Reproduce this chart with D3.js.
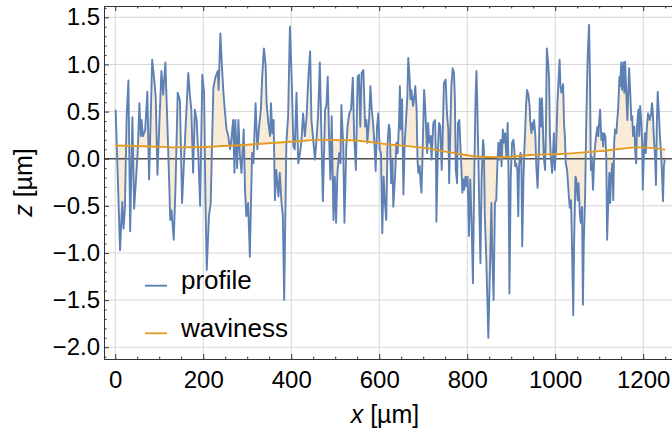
<!DOCTYPE html>
<meta charset="utf-8">
<style>
  body {
    margin: 0;
    background: #fff;
  }
  text {
    font-family: "Liberation Sans", Arial, sans-serif;
    fill: #000;
  }
</style>
<body></body>
<script src="https://d3js.org/d3.v7.min.js"></script>
<script>
  const width = 672
  const height = 432

  // profile, x in µm and z in µm
  const profileX = [
    1, 11, 16, 19, 22, 26, 30, 34, 39, 43, 47, 51, 55, 58, 60, 63, 68, 73, 77, 84,
    88, 92, 96, 100, 105, 109, 114, 119, 123, 125, 128, 133, 137, 142, 147, 152, 160, 166, 170, 173,
    177, 181, 185, 189, 193, 198, 202, 205, 208, 213, 217, 223, 228, 233, 235, 239, 243, 246, 249, 253,
    257, 261, 264, 268, 271, 273, 277, 280, 283, 287, 292, 295, 298, 302, 306, 311, 314, 319, 323, 327,
    331, 334, 338, 342, 344, 348, 352, 354, 357, 360, 363, 366, 371, 374, 378, 381, 384, 389, 393, 397,
    401, 405, 408, 412, 416, 420, 423, 427, 431, 435, 439, 443, 446, 450, 454, 458, 461, 465, 469, 472,
    477, 480, 483, 486, 489, 492, 495, 496, 499, 502, 505, 509, 512, 514, 518, 521, 525, 528, 532, 536,
    540, 543, 547, 551, 554, 557, 560, 564, 568, 571, 573, 577, 580, 583, 586, 589, 592, 595, 598, 601,
    604, 607, 610, 613, 616, 619, 622, 624, 627, 630, 632, 636, 639, 642, 645, 647, 649, 652, 654, 655,
    658, 661, 664, 666, 669, 671, 673, 677, 680, 682, 685, 687, 689, 692, 694, 696, 698, 702, 704, 706,
    709, 711, 714, 717, 719, 721, 723, 727, 729, 730, 733, 736, 739, 742, 744, 747, 751, 754, 757, 759,
    762, 764, 767, 770, 772, 774, 777, 779, 782, 786, 789, 791, 793, 796, 798, 801, 804, 807, 810, 813,
    816, 819, 821, 823, 827, 830, 833, 836, 838, 840, 843, 846, 848, 852, 855, 857, 860, 863, 866, 869,
    871, 873, 876, 878, 881, 883, 886, 889, 892, 894, 896, 899, 902, 905, 907, 909, 911, 914, 916, 918,
    921, 923, 925, 928, 930, 934, 936, 939, 942, 943, 946, 948, 950, 952, 955, 957, 960, 963, 965, 968,
    970, 972, 974, 977, 979, 981, 983, 986, 988, 990, 993, 995, 997, 999, 1002, 1005, 1008, 1010, 1012, 1014,
    1018, 1020, 1022, 1024, 1027, 1030, 1033, 1036, 1038, 1041, 1043, 1046, 1048, 1051, 1053, 1056, 1058, 1061, 1063, 1065,
    1068, 1070, 1072, 1074, 1077, 1079, 1081, 1083, 1086, 1088, 1090, 1093, 1096, 1098, 1100, 1102, 1105, 1107, 1109, 1111,
    1114, 1116, 1118, 1121, 1123, 1125, 1127, 1130, 1132, 1134, 1136, 1139, 1141, 1143, 1146, 1148, 1150, 1152, 1155, 1157,
    1159, 1161, 1164, 1166, 1168, 1171, 1173, 1175, 1177, 1180, 1182, 1184, 1186, 1189, 1191, 1193, 1196, 1198, 1199, 1202,
    1204, 1206, 1208, 1211, 1213, 1215, 1218, 1220, 1222, 1224, 1227, 1229, 1231, 1233, 1236, 1238, 1240, 1243, 1245, 1247,
    1249
  ]
  const profileZ = [
    0.52, -0.97, -0.46, -0.74, -0.53, 0.45, 0.83, -0.77, 0.44, -0.53, -0.24, 0.06, 0.59, 0.24, 0.41, 0.24, 0.30, 0.71, -0.22, 1.05,
    0.87, 0.66, -0.17, 0.34, 0.93, 0.68, 1.02, 0.30, -0.30, -0.65, -0.55, -0.86, -0.30, 0.70, 0.62, -0.47, 0.34, 0.91, 0.66, 0.52,
    -0.15, 0.52, 0.41, 0.02, -0.50, 0.89, 0.70, -0.40, -1.18, -0.61, -0.47, 0.75, 0.87, 0.93, 0.73, 1.33, 0.94, 0.70, 0.52, 0.31,
    0.24, 0.10, 0.20, 0.41, -0.15, 0.41, -0.10, 0.41, 0.06, -0.15, 0.31, -0.33, -0.61, -0.47, -1.04, 0.06, -0.05, 0.59, 0.10, 0.34,
    0.52, 0.87, 1.17, 0.98, 0.59, 0.38, 0.24, 0.59, 0.27, 0.41, -0.44, -0.12, -0.40, -0.15, -0.47, -0.61, -1.50, 0.17, 0.45, 1.40,
    0.87, 0.13, 0.10, 0.70, -0.05, 0.06, 0.17, 0.48, 0.24, 0.45, 0.87, 1.14, 0.41, 0.20, -0.01, 0.24, 0.45, 1.02, 0.17, -0.45,
    0.52, 0.57, 0.87, 0.24, -0.22, 0.45, -0.37, -0.65, -0.19, -0.68, -0.15, 0.06, -0.05, 0.57, 0.17, -0.68, 0.10, 0.34, 0.48, 0.52,
    0.86, 0.24, -0.12, 0.87, 0.89, 0.34, 0.91, 0.94, 0.34, 0.41, 0.17, 0.41, 0.77, 0.52, 0.38, 0.17, -0.13, 0.34, 0.48, 0.10,
    0.06, -0.79, -0.19, -0.47, -0.65, 0.17, 0.36, 0.31, -0.26, -0.01, -0.51, -0.19, 0.17, 0.06, 0.38, 0.77, 0.31, 0.63, -0.05, -0.38,
    0.17, 0.41, 0.66, 1.07, 0.87, 0.63, 0.73, 0.56, 0.66, 0.77, 0.52, -0.01, -0.15, -0.08, -0.26, -0.36, -0.05, 0.73, 0.59, 0.38,
    0.06, 0.38, 0.17, 0.24, -0.01, 0.20, 0.38, 0.41, -0.01, -0.67, 0.02, 0.38, 0.34, -0.12, 0.17, 0.80, 0.84, 0.48, 0.31, -0.26,
    0.38, 0.77, 0.96, 0.91, 0.63, -0.12, -0.26, 0.38, 0.41, -0.01, -0.36, -0.22, -0.33, -0.19, -0.29, -0.19, -0.82, -0.22, -0.68, -1.32,
    -0.19, 0.66, 0.93, 0.56, -0.40, -1.11, -0.19, 0.20, 0.10, -0.61, -1.00, -1.53, -1.90, -1.11, -0.47, -1.04, -1.50, -0.47, -0.44, -0.01,
    0.17, -0.01, 0.20, -0.08, 0.31, 0.17, 0.27, 0.02, 0.38, -0.19, -1.43, -0.19, 0.17, 0.20, 0.10, -0.08, -0.05, -0.12, -0.61, -0.08,
    0.06, 0.02, -0.93, -0.19, 0.10, 0.59, 0.73, 0.68, 0.55, 0.41, 0.27, 0.38, 0.31, 0.41, 0.24, -0.08, -0.31, 0.10, 0.64, 0.34,
    0.64, 0.34, 0.02, -0.12, 0.34, 1.17, 1.07, 0.87, 0.24, 0.02, -0.15, 0.06, 0.27, -0.12, 0.10, 0.59, 0.87, 1.05, 0.77, 0.70,
    0.79, 0.38, 0.24, -0.05, -0.12, -0.33, -0.52, -0.44, -0.89, -1.66, -0.89, -0.19, -0.22, -0.44, -0.26, -0.58, -0.68, -0.51, -1.55, -0.89,
    -0.40, 0.24, 0.70, 1.12, 1.42, 0.87, -0.12, 0.02, -0.33, -0.08, 0.10, 0.24, 0.34, 0.24, 0.40, 0.52, 0.20, 0.27, 0.13, 0.27,
    0.24, 0.02, -0.86, -0.40, -0.15, -0.47, -0.19, -0.05, -0.44, 0.17, 0.31, 0.27, 0.41, 0.52, 0.87, 0.77, 1.02, 0.73, 1.02, 0.70,
    1.03, 0.77, 0.41, 0.70, 0.96, 0.66, 0.41, 0.45, 0.24, 0.34, 0.06, -0.05, 0.34, 0.52, 0.24, 0.56, 0.38, 0.10, -0.33, 0.10,
    0.27, 0.06, 0.31, 0.48, 0.45, 0.41, 0.48, 0.59, 0.48, 0.24, 0.02, -0.28, 0.38, 0.71, 0.45, 0.24, 0.10, -0.19, -0.45, -0.08,
    -0.01
  ]

  // waviness (smooth long-wavelength component)
  const wavinessX = [0, 80, 148, 227, 307, 398, 466, 534, 625, 693, 784, 830, 875, 943, 1011, 1102, 1193, 1250]
  const wavinessZ = [0.14, 0.13, 0.12, 0.13, 0.15, 0.18, 0.20, 0.195, 0.15, 0.12, 0.05, 0.02, 0.015, 0.04, 0.05, 0.08, 0.12, 0.096]

  const xTicks = [0, 200, 400, 600, 800, 1000, 1200]
  const yTicks = [-2.0, -1.5, -1.0, -0.5, 0.0, 0.5, 1.0, 1.5]
  const seriesNames = ["profile", "waviness"]

  const profileColor = "#5e81b5"
  const wavinessColor = "#e19c24"
  const fillColor = "#f9ebd5"
  const gridColor = "#d6d6d6"
  const frameColor = "#333"

  const margin = { top: 6, right: -2, bottom: 73, left: 104 }

  const x = d3.scaleLinear()
    .domain([-25.5, 1270])
    .range([margin.left, width - margin.right])

  const y = d3.scaleLinear()
    .domain([-2.125, 1.62])
    .range([height - margin.bottom, margin.top])

  // waviness evaluated at any x, for the filling between the two curves
  const wavinessAt = d3.scaleLinear().domain(wavinessX).range(wavinessZ)

  const profile = profileX.map((d, i) => ({ x: d, z: profileZ[i] }))
  const waviness = wavinessX.map((d, i) => ({ x: d, z: wavinessZ[i] }))

  const svg = d3.select("body")
    .append("svg")
    .attr("width", width)
    .attr("height", height)

  // grid lines
  svg.append("g")
    .selectAll("line.vgrid")
    .data(xTicks)
    .join("line")
    .attr("x1", d => x(d))
    .attr("x2", d => x(d))
    .attr("y1", y.range()[0])
    .attr("y2", y.range()[1])
    .attr("stroke", gridColor)
    .attr("stroke-width", 1)

  svg.append("g")
    .selectAll("line.hgrid")
    .data(yTicks.filter(d => d !== 0))
    .join("line")
    .attr("x1", x.range()[0])
    .attr("x2", x.range()[1])
    .attr("y1", d => y(d))
    .attr("y2", d => y(d))
    .attr("stroke", gridColor)
    .attr("stroke-width", 1)

  // filling between profile and waviness
  svg.append("path")
    .datum(profile)
    .attr("fill", fillColor)
    .attr("d", d3.area()
      .x(d => x(d.x))
      .y0(d => y(wavinessAt(d.x)))
      .y1(d => y(d.z)))

  // zero axis
  svg.append("line")
    .attr("x1", x.range()[0])
    .attr("x2", x.range()[1])
    .attr("y1", y(0))
    .attr("y2", y(0))
    .attr("stroke", "#4d4d4d")
    .attr("stroke-width", 1.6)

  svg.append("path")
    .datum(profile)
    .attr("fill", "none")
    .attr("stroke", profileColor)
    .attr("stroke-width", 1.9)
    .attr("stroke-linejoin", "round")
    .attr("d", d3.line().x(d => x(d.x)).y(d => y(d.z)))

  svg.append("path")
    .datum(waviness)
    .attr("fill", "none")
    .attr("stroke", wavinessColor)
    .attr("stroke-width", 1.9)
    .attr("d", d3.line().curve(d3.curveMonotoneX).x(d => x(d.x)).y(d => y(d.z)))

  // frame with inward ticks
  const minorX = d3.range(-0, 1300, 50).filter(d => !xTicks.includes(d))
  const minorY = d3.range(-21, 17, 1).map(d => d / 10).filter(d => !yTicks.some(t => Math.abs(t - d) < 1e-9))

  function styleAxis(g) {
    g.select(".domain").attr("stroke", frameColor)
    g.selectAll(".tick line").attr("stroke", frameColor)
    g.selectAll("text")
      .attr("font-size", 24)
      .attr("font-family", "'Liberation Sans', Arial, sans-serif")
      .attr("fill", "#000")
  }

  svg.append("g")
    .attr("transform", `translate(0, ${y.range()[0]})`)
    .call(d3.axisBottom(x).tickValues(minorX).tickSize(-2.5).tickFormat("").tickSizeOuter(0))
    .call(styleAxis)

  svg.append("g")
    .attr("transform", `translate(0, ${y.range()[0]})`)
    .call(d3.axisBottom(x).tickValues(xTicks).tickSize(-5).tickPadding(12).tickSizeOuter(0).tickFormat(d3.format("d")))
    .call(styleAxis)
    .call(g => g.selectAll("text").attr("dy", "0.71em"))

  svg.append("g")
    .attr("transform", `translate(0, ${y.range()[1]})`)
    .call(d3.axisTop(x).tickValues(minorX).tickSize(-2.5).tickFormat("").tickSizeOuter(0))
    .call(styleAxis)

  svg.append("g")
    .attr("transform", `translate(0, ${y.range()[1]})`)
    .call(d3.axisTop(x).tickValues(xTicks).tickSize(-5).tickFormat("").tickSizeOuter(0))
    .call(styleAxis)

  svg.append("g")
    .attr("transform", `translate(${x.range()[0]}, 0)`)
    .call(d3.axisLeft(y).tickValues(minorY).tickSize(-2.5).tickFormat("").tickSizeOuter(0))
    .call(styleAxis)

  svg.append("g")
    .attr("transform", `translate(${x.range()[0]}, 0)`)
    .call(d3.axisLeft(y).tickValues(yTicks).tickSize(-5).tickPadding(4).tickSizeOuter(0).tickFormat(d3.format(".1f")))
    .call(styleAxis)
    .call(g => g.selectAll("text").text(d => d3.format(".1f")(d).replace("-", "\u2212")))

  // axis labels
  const xLabel = svg.append("text")
    .attr("x", (x.range()[0] + x.range()[1]) / 2 - 4)
    .attr("y", 423)
    .attr("text-anchor", "middle")
    .attr("font-size", 25)
  xLabel.append("tspan").attr("font-style", "italic").text("x")
  xLabel.append("tspan").text(" [µm]")

  const yLabel = svg.append("text")
    .attr("transform", `translate(32, ${(y.range()[0] + y.range()[1]) / 2}) rotate(-90)`)
    .attr("text-anchor", "middle")
    .attr("font-size", 25)
  yLabel.append("tspan").attr("font-style", "italic").text("z")
  yLabel.append("tspan").text(" [µm]")

  // legend
  const legend = svg.append("g")
    .selectAll("g")
    .data(seriesNames)
    .join("g")
    .attr("transform", (d, i) => `translate(145, ${285.7 + i * 47.6})`)

  legend.append("line")
    .attr("x1", 0)
    .attr("x2", 22)
    .attr("stroke", (d, i) => i === 0 ? profileColor : wavinessColor)
    .attr("stroke-width", 1.9)

  legend.append("text")
    .attr("x", 36)
    .attr("y", 3.5)
    .attr("font-size", 26)
    .text(d => d)
</script>
